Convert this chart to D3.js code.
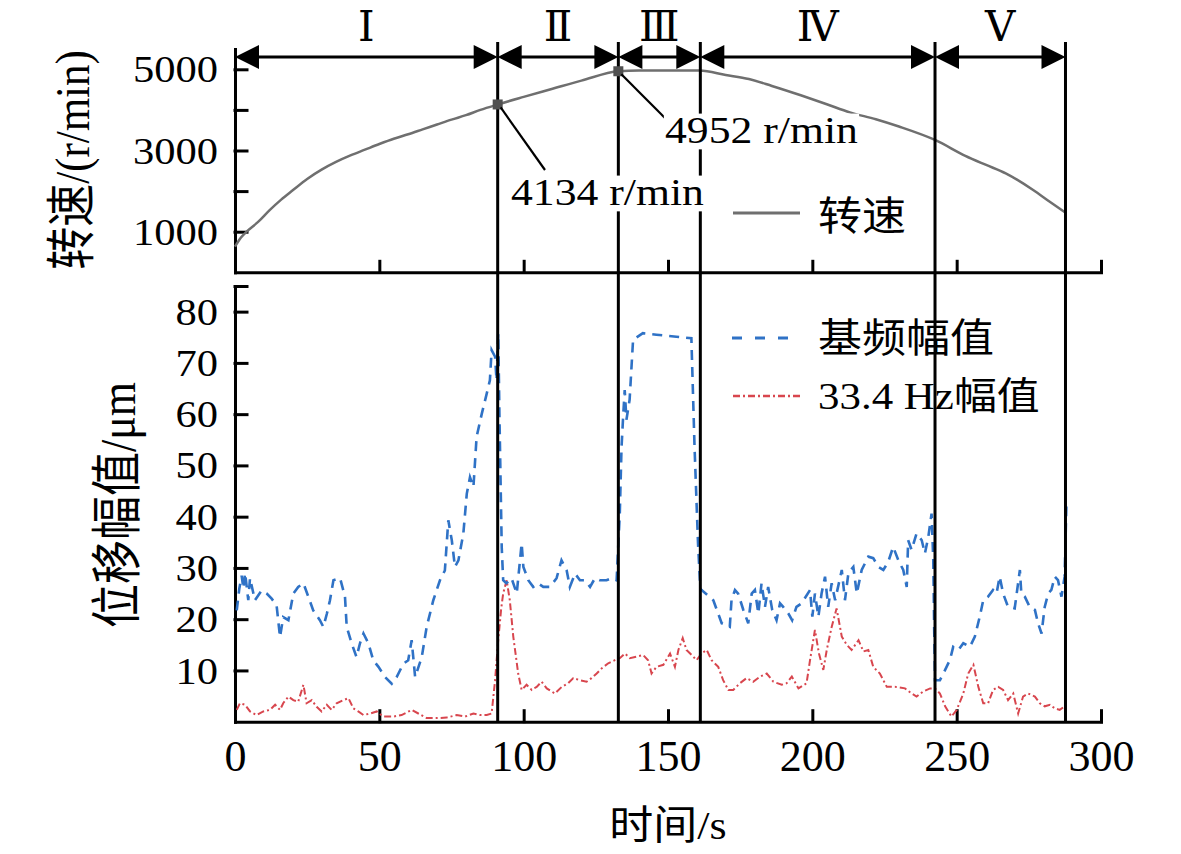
<!DOCTYPE html>
<html>
<head>
<meta charset="utf-8">
<script src="https://cdn.jsdelivr.net/npm/d3@7"></script>
<style>
  html, body { margin: 0; padding: 0; background: #fff; }
  svg { display: block; }
</style>
</head>
<body>
<div id="chart"></div>
<script>
// ---- data ----
const timeTicks = [0, 50, 100, 150, 200, 250, 300];
const speedTicks = [1000, 2000, 3000, 4000, 5000];
const speedTickLabels = ["1000", "", "3000", "", "5000"];
const ampTicks = [10, 20, 30, 40, 50, 60, 70, 80];

const stageNames = ["Ⅰ", "Ⅱ", "Ⅲ", "Ⅳ", "Ⅴ"];
const stageEdges = [0, 91, 132.8, 161.2, 242.5, 287.7];

// rotating speed, r/min
const speed = [[0,630],[2,850],[4,1000],[8,1240],[12,1530],[16,1790],[20,2020],[25,2300],[30,2530],
  [35,2720],[40,2880],[45,3020],[50,3160],[55,3290],[60,3400],[65,3520],[70,3640],[75,3760],
  [80,3870],[85,4000],[91,4134],[100,4320],[110,4520],[120,4720],[132.8,4952],[140,4970],
  [150,4970],[161,4970],[170,4860],[178,4760],[186,4590],[196,4360],[205,4140],[213,3940],
  [222,3770],[230,3590],[242.5,3259],[253,2870],[260,2650],[267,2438],[276.5,2027],[282,1750],[288,1453]];
const speedMarks = [[91, 4134], [132.8, 4952]];

// 基频幅值, um
const baseAmp = [[0.6,21.7],[1.5,26],[2.3,28.5],[2.9,26],[3.5,29],[4.6,23.7],[5.2,28],[6.9,23.7],[9.2,25.6],
  [11,25],[12.7,24],[14.4,22.7],[15.6,16.5],[16.7,20.4],[18.5,19.8],[20.2,25],[21.9,26.3],[23.7,27],
  [25.4,24.4],[27.1,21.7],[29.4,19.8],[30.6,18.5],[31.8,21],[32.9,23.7],[34.1,27.6],[36.4,28],
  [38.1,24.4],[38.7,18.5],[40.4,15.3],[42.1,12.6],[43.3,15.3],[44.5,17.2],[46.2,15.3],[47.9,12],
  [49.7,10.7],[52,8.7],[54.3,7.4],[56,8.7],[58.3,11.3],[60,12],[61.2,15.9],[62.4,8.7],[64.7,12.6],
  [66.4,18.5],[68.7,23.7],[71,27.6],[72.7,29.5],[73.9,39.3],[75.1,35.4],[76.2,30.2],[77.4,31.5],
  [79.1,36.7],[80.3,44.5],[81.4,47.7],[82.6,45.8],[83.7,55.6],[85.5,60.1],[87.2,64],[88.3,66.6],
  [88.9,72.5],[90.1,71.2],[90.6,66.6],[91.2,75.8],[91.6,60],[92,47],[92.4,34],[92.9,27.6],[94,27],
  [95.8,28],[97.6,25],[99.3,34.8],[99.9,30.2],[101.6,27.6],[103.3,26.3],[105,27],[106.8,26.3],
  [109.1,26.3],[111.4,28],[113.1,31.5],[114.9,29.5],[116,26.3],[117.8,28.9],[119.5,27.6],[121.2,27.6],
  [123,26.3],[124.7,28],[126.4,27.6],[128.7,27.6],[130.5,28],[132.2,27.6],[133.3,40.6],[133.9,53.5],
  [134.4,58.9],[135,64.7],[135.6,58.9],[136.7,62.8],[137.9,74.5],[141.3,75.8],[146,75.5],[152.9,75.1],
  [158.1,74.8],[159.2,53.5],[160.4,34.8],[161.2,26],[161.6,25.7],[165.7,23.7],[168.6,19.2],[171.4,18.5],
  [172,23.7],[173.2,25.7],[174.3,25],[176.1,21.8],[177.8,19.2],[179,25],[180.1,25.7],[181.3,21.1],
  [182.4,27],[183.6,22.4],[184.7,26.3],[186.1,21.8],[187.6,19.8],[188.8,23.1],[189.9,22.4],[191.7,21.1],
  [193,19.8],[194.5,22.4],[196.3,23.1],[199.2,25.7],[200,20.5],[200.9,25],[202.1,20.5],[203.2,25],
  [204.4,28.3],[205.5,22.4],[206.7,27],[207.9,23.7],[210.2,29.6],[211.3,23.7],[212.5,29],[214.2,30.2],
  [215.4,25],[217.1,29.6],[219.4,32.2],[221.1,31.9],[222.9,30.2],[224.6,29.6],[226.3,31.2],[228,34.1],
  [229.8,31.5],[231.5,29.6],[232.7,26.3],[233.2,35.4],[234.4,33.5],[236.1,36.7],[237.9,35.4],[239,32.8],
  [240.2,36.1],[241.3,40.6],[241.9,31.5],[242.2,18.5],[242.5,8.1],[244.2,8.1],[246,10.1],[247.7,12.1],
  [248.8,14.6],[250.6,14],[252.3,15.3],[254.6,14.6],[256.3,16.6],[258,20.5],[259.2,23.7],[260.9,24.4],
  [262.6,25.7],[263.8,25],[264.9,28.3],[266.1,25],[267.8,22.4],[270.1,22.1],[271.9,29.6],[272.4,25],
  [273.6,24.4],[275.3,22.4],[277.1,21.8],[278.2,19.2],[279.4,17.2],[280.5,22.4],[281.7,25],[282.8,25.7],
  [284,28.3],[285.1,27.6],[286.3,24.4],[287.4,28.3],[288,42]];

// 33.4 Hz幅值, um
const subAmp = [[0.6,2.3],[1.7,3.6],[3.5,3.3],[5.2,2],[7.5,1.3],[9.8,2],[12.1,2.3],[13.9,3.3],[15.6,2.3],
  [16.7,3.6],[18.5,4.9],[20.2,4.2],[21.9,3.9],[23.7,7.2],[24.8,3.6],[26.6,4.2],[28.3,2.9],[30,2],
  [31.8,3.3],[33.5,2.3],[35.2,3.6],[37.5,4.2],[39.3,4.6],[41,2.6],[42.7,2],[44.5,1.3],[46.8,1.6],
  [49.1,2],[51.4,1],[54.8,1],[57.7,1.3],[61.2,2.3],[63.5,1.6],[66.4,0.7],[69.9,0.7],[73.3,0.8],
  [76.8,1.3],[79.7,1],[82.6,1.6],[84.9,1.3],[87.2,1.3],[88.9,1.6],[90.1,8.1],[91.2,16],[92.2,22],
  [92.9,25],[94.1,27.6],[95.2,23.7],[96.4,16.6],[98.1,9.4],[99.3,6.2],[101,7.2],[102.8,6.2],[104.5,6.8],
  [106.2,7.8],[108,6.5],[110.8,5.5],[113.2,6.8],[115.4,7.5],[117.2,8.5],[119.5,8.1],[121.8,7.8],
  [123.5,8.5],[125.3,9.4],[127,10.4],[129.3,11.4],[131.6,12],[133.3,12.4],[135.1,13.3],[136.8,12.4],
  [139.1,12.7],[141.4,13],[143.1,12],[144.3,9.4],[146,10.7],[148.4,11.1],[150.7,13.3],[152.4,10.7],
  [153.6,14],[155.1,16.3],[156.4,14],[158.2,13],[159.9,12],[161.6,13.3],[163.4,14],[165.1,12],
  [167.4,10.7],[169.1,8.1],[170.9,6.2],[172.6,6.2],[174.9,7.5],[177.2,8.5],[179.5,7.8],[181.9,8.8],
  [184.2,9.4],[186.5,7.8],[189.4,7.2],[191.1,7.5],[192.9,8.8],[195.2,6.5],[198,7.5],[199.2,12],
  [200.9,17.9],[202.3,13.3],[203.8,10.1],[205,14],[206.7,18.5],[208.4,22.1],[210.2,16.6],[211.9,15],
  [213.6,14],[216,15.9],[217.7,13.7],[219.4,14],[221.1,10.7],[223.4,9.4],[225.8,6.8],[228.6,6.8],
  [232.1,6.5],[234.4,5.5],[236.1,4.9],[238.4,5.9],[240.8,6.5],[242.5,6.5],[244.2,5.5],[246,3],
  [248.2,1],[250,2.3],[252.3,5.5],[254,9.4],[255.8,11.1],[257.5,6.8],[259.2,3.6],[260.9,3.6],
  [262.6,6.2],[264.4,6.8],[266.1,6.2],[267.8,4.2],[269.6,5.5],[271.3,1.6],[273,4.9],[274.8,5.5],
  [277.1,4.9],[278.8,3.6],[280.5,3],[282.3,3.3],[284,2.6],[285.7,2.3],[287.4,3]];

// ---- layout ----
const W = 1181, H = 854;
const FONT = '"Liberation Serif", "Times New Roman", "DejaVu Serif", "Noto Sans CJK SC", serif';
const SX = 1.15;   // the source figure is stretched sideways
const BLUE = "#2f72c6", RED = "#d8464e", GRAY = "#6f6f6f";

const svg = d3.select("#chart").append("svg")
  .attr("width", W).attr("height", H)
  .style("font-family", FONT);

const x = d3.scaleLinear().domain([0, 300]).range([235, 1101]);
const yTop = d3.scaleLinear().domain([0, 5500]).range([272.3, 49]);
const yBot = d3.scaleLinear().domain([0, 85]).range([721.7, 286]);

// text helper: stretched horizontally like the source
function label(parent, px, py, str, o) {
  const g = parent.append("g")
    .attr("transform", `translate(${px},${py}) scale(${o.sx || 1},1)` + (o.rot ? ` rotate(${o.rot})` : ""));
  const t = g.append("text")
    .attr("text-anchor", o.anchor || "start")
    .attr("dominant-baseline", o.base || "auto")
    .style("font-size", o.size + "px")
    .attr("fill", "#000")
    .text(str);
  return { g, t };
}

function styleAxis(g) {
  g.selectAll("path, line").attr("stroke", "#000").attr("stroke-width", 3)
    .attr("stroke-linecap", "square");
  g.attr("font-family", null).attr("font-size", null);
}

// ---- top panel axes ----
const gTopY = svg.append("g").attr("transform", "translate(235,0)")
  .call(d3.axisLeft(yTop).tickValues(speedTicks).tickSizeInner(-12).tickSizeOuter(0)
    .tickFormat((d, i) => speedTickLabels[i]));
styleAxis(gTopY);
gTopY.selectAll("text").style("font-size", "37px").attr("fill", "#000")
  .attr("x", -17 / SX).attr("dy", "0.34em").attr("transform", `scale(${SX},1)`);

const gTopX = svg.append("g").attr("transform", `translate(0,${yTop(0)})`)
  .call(d3.axisBottom(x).tickValues(timeTicks).tickSizeInner(-11).tickSizeOuter(0).tickFormat(""));
styleAxis(gTopX);

// ---- bottom panel axes ----
const gBotY = svg.append("g").attr("transform", "translate(235,0)")
  .call(d3.axisLeft(yBot).tickValues(ampTicks.concat([85])).tickSizeInner(-12).tickSizeOuter(0)
    .tickFormat(d => d === 85 ? "" : d));
styleAxis(gBotY);
gBotY.selectAll("text").style("font-size", "37px").attr("fill", "#000")
  .attr("x", -17 / SX).attr("dy", "0.34em").attr("transform", `scale(${SX},1)`);

const gBotX = svg.append("g").attr("transform", `translate(0,${yBot(0)})`)
  .call(d3.axisBottom(x).tickValues(timeTicks).tickSizeInner(-11).tickSizeOuter(0).tickPadding(18));
styleAxis(gBotX);
gBotX.selectAll("text").style("font-size", "44px").attr("fill", "#000");

// ---- series ----
const lineTop = d3.line().curve(d3.curveMonotoneX).x(d => x(d[0])).y(d => yTop(d[1]));
const lineBot = d3.line().x(d => x(d[0])).y(d => yBot(d[1]));

svg.append("path").datum(speed).attr("d", lineTop)
  .attr("fill", "none").attr("stroke", GRAY).attr("stroke-width", 2.5);

svg.append("path").datum(subAmp).attr("d", lineBot)
  .attr("fill", "none").attr("stroke", RED).attr("stroke-width", 2)
  .attr("stroke-dasharray", "7,3,2,3");

svg.append("path").datum(baseAmp).attr("d", lineBot)
  .attr("fill", "none").attr("stroke", BLUE).attr("stroke-width", 2.6)
  .attr("stroke-dasharray", "10,7");

// ---- stage boundaries and arrows ----
svg.append("g").selectAll("line").data(stageEdges.slice(1)).enter().append("line")
  .attr("x1", d => x(d)).attr("x2", d => x(d))
  .attr("y1", 42).attr("y2", yBot(0))
  .attr("stroke", "#000").attr("stroke-width", 3);

const arrowY = 57, headL = 24, headH = 12;
const stages = stageNames.map((n, i) => ({ name: n, a: stageEdges[i], b: stageEdges[i + 1] }));
const ga = svg.append("g");
stages.forEach(s => {
  const xa = x(s.a), xb = x(s.b);
  ga.append("line").attr("x1", xa + 4).attr("x2", xb - 4).attr("y1", arrowY).attr("y2", arrowY)
    .attr("stroke", "#000").attr("stroke-width", 3);
  ga.append("path").attr("d", `M${xa},${arrowY}L${xa + headL},${arrowY - headH}L${xa + headL},${arrowY + headH}Z`)
    .attr("fill", "#000");
  ga.append("path").attr("d", `M${xb},${arrowY}L${xb - headL},${arrowY - headH}L${xb - headL},${arrowY + headH}Z`)
    .attr("fill", "#000");
  label(svg, (xa + xb) / 2, 41, s.name, { size: 42, anchor: "middle" });
});

// ---- speed markers and callouts ----
svg.append("g").selectAll("rect").data(speedMarks).enter().append("rect")
  .attr("x", d => x(d[0]) - 5).attr("y", d => yTop(d[1]) - 5)
  .attr("width", 10).attr("height", 10).attr("fill", "#505050");

const callouts = [
  { mark: speedMarks[0], lx: 545, ly: 170, tx: 511, ty: 205, text: "4134 r/min" },
  { mark: speedMarks[1], lx: 665, ly: 118, tx: 665, ty: 143, text: "4952 r/min" }
];
callouts.forEach(c => {
  svg.append("line")
    .attr("x1", x(c.mark[0]) + 3).attr("y1", yTop(c.mark[1]) + 3)
    .attr("x2", c.lx).attr("y2", c.ly)
    .attr("stroke", "#000").attr("stroke-width", 2.2);
  const l = label(svg, c.tx, c.ty, c.text, { size: 38, sx: SX });
  const bb = l.t.node().getBBox();
  l.g.insert("rect", "text")
    .attr("x", bb.x - 1).attr("y", bb.y + 4).attr("width", bb.width + 2).attr("height", bb.height - 6)
    .attr("fill", "#fff");
});

// ---- legends ----
svg.append("line").attr("x1", 733).attr("x2", 800).attr("y1", 213).attr("y2", 213)
  .attr("stroke", GRAY).attr("stroke-width", 3);
label(svg, 818, 217, "转速", { size: 40, sx: 1.1, base: "central" });

svg.append("line").attr("x1", 732).attr("x2", 792).attr("y1", 338).attr("y2", 338)
  .attr("stroke", BLUE).attr("stroke-width", 3).attr("stroke-dasharray", "10,13");
label(svg, 818, 339, "基频幅值", { size: 40, sx: 1.1, base: "central" });

svg.append("line").attr("x1", 733).attr("x2", 800).attr("y1", 396).attr("y2", 396)
  .attr("stroke", RED).attr("stroke-width", 2.5).attr("stroke-dasharray", "7,3,2,3");
label(svg, 818, 396, "33.4 Hz幅值", { size: 38, sx: 1.13, base: "central" });

// ---- axis titles ----
label(svg, 72, 160, "转速/(r/min)", { size: 43, sx: SX, rot: -90, anchor: "middle", base: "central" });
label(svg, 118, 505, "位移幅值/μm", { size: 44, sx: SX, rot: -90, anchor: "middle", base: "central" });
label(svg, 668, 826, "时间/s", { size: 40, sx: 1.1, anchor: "middle", base: "central" });
</script>
</body>
</html>
